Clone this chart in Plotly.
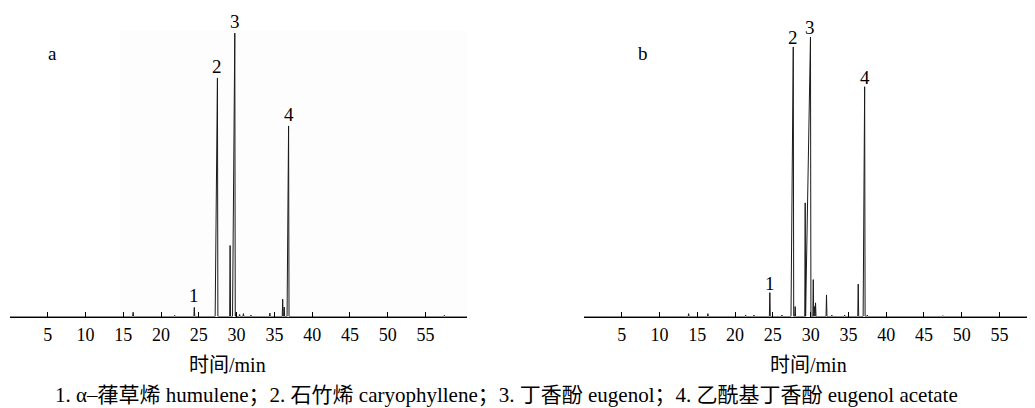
import plotly.graph_objects as go

# ---------------- data ----------------
# Panel a: retention time (min), relative intensity (%), fronting width (min)
rt_a = [16.3, 21.8, 24.4, 27.46, 29.14, 29.76, 29.93, 30.4, 30.9, 31.9, 34.4, 36.1, 36.3, 36.88, 57.5]
h_a = [1.5, 0.4, 3.2, 84.0, 25.0, 99.8, 1.4, 0.7, 1.0, 0.5, 1.2, 6.1, 3.3, 67.1, 0.4]
front_a = [0.06, 0.06, 0.06, 0.30, 0.06, 0.30, 0.06, 0.06, 0.06, 0.06, 0.06, 0.06, 0.06, 0.20, 0.06]

# Panel b
rt_b = [13.85, 16.4, 21.4, 22.5, 24.6, 26.2, 27.7, 27.95, 29.28, 29.98, 30.35, 30.5, 30.65, 32.1, 32.8, 34.5, 36.3, 37.15, 37.5, 47.5]
h_b = [1.0, 1.0, 0.5, 0.5, 8.4, 0.5, 94.9, 3.5, 40.0, 98.4, 13.0, 3.5, 4.8, 7.6, 0.5, 0.5, 11.4, 80.9, 0.5, 0.3]
front_b = [0.06, 0.06, 0.06, 0.06, 0.06, 0.06, 0.30, 0.06, 0.06, 0.65, 0.06, 0.06, 0.06, 0.06, 0.06, 0.06, 0.06, 0.20, 0.06, 0.06]

# labelled peaks: (label, retention time, height)
labels_a = [("1", 24.4, 3.2), ("2", 27.46, 84.0), ("3", 29.76, 99.8), ("4", 36.88, 67.1)]
labels_b = [("1", 24.6, 8.4), ("2", 27.7, 94.9), ("3", 29.98, 98.4), ("4", 37.15, 80.9)]

tick_vals = [5, 10, 15, 20, 25, 30, 35, 40, 45, 50, 55]
x_title = "时间/min"
caption = ("1. α–葎草烯 humulene；2. 石竹烯 caryophyllene；3. 丁香酚 eugenol；"
           "4. 乙酰基丁香酚 eugenol acetate")

# ---------------- layout constants ----------------
# the page body has an 8 px margin, so the figure is drawn 8 px in from the top-left
OFF = 8
W, H = 1035 - OFF, 408 - OFF
XMAX_A, XMAX_B = 60.5, 59.7
TAIL = 0.06
SERIF = "Liberation Serif, Noto Sans CJK SC, serif"


def px(x):
    return (x - OFF) / W


def py(y):
    return 1 - (y - OFF) / H


def trace_xy(rts, hs, fronts, xmax):
    xs, ys = [0.0], [0.0]
    for t, h, f in zip(rts, hs, fronts):
        xs += [t - f, t, t + TAIL]
        ys += [0.0, h, 0.0]
    xs.append(xmax)
    ys.append(0.0)
    return xs, ys


xa, ya = trace_xy(rt_a, h_a, front_a, XMAX_A)
xb, yb = trace_xy(rt_b, h_b, front_b, XMAX_B)

fig = go.Figure()
fig.add_trace(go.Scatter(x=xa, y=ya, mode="lines", line=dict(color="#1a1a1a", width=1),
                         xaxis="x", yaxis="y", hoverinfo="skip", showlegend=False))
fig.add_trace(go.Scatter(x=xb, y=yb, mode="lines", line=dict(color="#1a1a1a", width=1),
                         xaxis="x2", yaxis="y2", hoverinfo="skip", showlegend=False))

axis_common = dict(
    showline=True, linecolor="black", linewidth=1,
    ticks="inside", ticklen=5, tickwidth=1, tickcolor="black",
    tickvals=tick_vals, showgrid=False, zeroline=False,
    tickfont=dict(family=SERIF, size=18, color="black"),
    ticklabelstandoff=2, automargin=False, fixedrange=True,
)
y_common = dict(visible=False, range=[0, 100], showgrid=False, zeroline=False,
                domain=[py(316.5), py(32.5)], fixedrange=True)

fig.update_layout(
    width=W, height=H,
    margin=dict(l=0, r=0, t=0, b=0, autoexpand=False),
    paper_bgcolor="white", plot_bgcolor="rgba(0,0,0,0)",
    xaxis=dict(domain=[px(10), px(467)], range=[0, XMAX_A], anchor="y", **axis_common),
    xaxis2=dict(domain=[px(584), 1.0], range=[0, XMAX_B], anchor="y2", **axis_common),
    yaxis=dict(anchor="x", **y_common),
    yaxis2=dict(anchor="x2", **y_common),
)

# faint gray plotting region as in the scan
fig.add_shape(type="rect", xref="paper", yref="paper", x0=px(120), x1=px(467),
              y0=py(316), y1=py(31), fillcolor="#fdfdfd", line=dict(width=0), layer="below")

annotations = []
for lab, t, h in labels_a:
    annotations.append(dict(x=t, y=h, xref="x", yref="y", text=lab, showarrow=False,
                            xanchor="center", yanchor="bottom", yshift=-1,
                            font=dict(family=SERIF, size=19, color="black")))
for lab, t, h in labels_b:
    annotations.append(dict(x=t, y=h, xref="x2", yref="y2", text=lab, showarrow=False,
                            xanchor="center", yanchor="bottom", yshift=-3,
                            font=dict(family=SERIF, size=19, color="black")))

annotations += [
    dict(x=px(52), y=py(53), xref="paper", yref="paper", text="a", showarrow=False,
         xanchor="center", yanchor="middle", font=dict(family=SERIF, size=19, color="black")),
    dict(x=px(643), y=py(53), xref="paper", yref="paper", text="b", showarrow=False,
         xanchor="center", yanchor="middle", font=dict(family=SERIF, size=19, color="black")),
    dict(x=px(227), y=py(365), xref="paper", yref="paper", text=x_title, showarrow=False,
         xanchor="center", yanchor="middle", font=dict(family=SERIF, size=20, color="black")),
    dict(x=px(808), y=py(365), xref="paper", yref="paper", text=x_title, showarrow=False,
         xanchor="center", yanchor="middle", font=dict(family=SERIF, size=20, color="black")),
    dict(x=px(506), y=py(395), xref="paper", yref="paper", text=caption, showarrow=False,
         xanchor="center", yanchor="middle", font=dict(family=SERIF, size=21, color="black")),
]
fig.update_layout(annotations=annotations)

fig.write_html("out.html")
